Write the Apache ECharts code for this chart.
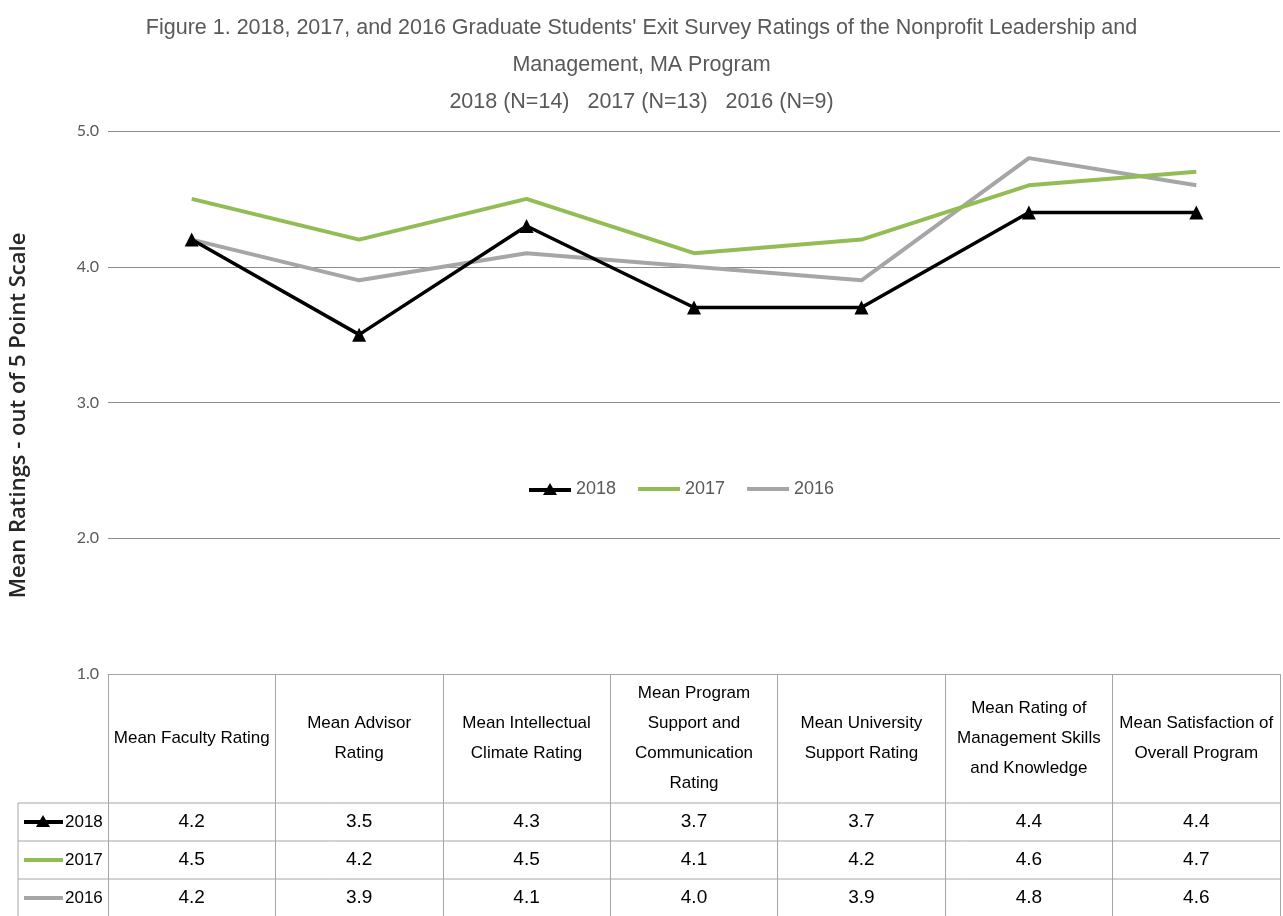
<!DOCTYPE html>
<html>
<head>
<meta charset="utf-8">
<script src="https://cdn.jsdelivr.net/npm/echarts@6/dist/echarts.min.js"></script>
<style>
  html, body { margin: 0; padding: 0; background: #fff; }
  #survey-chart { width: 1283px; height: 916px; }
</style>
</head>
<body>
<div id="survey-chart"></div>
<script>
// categories as shown in the data table (line breaks as in the picture)
const categories = [
  'Mean Faculty Rating',
  'Mean Advisor\nRating',
  'Mean Intellectual\nClimate Rating',
  'Mean Program\nSupport and\nCommunication\nRating',
  'Mean University\nSupport Rating',
  'Mean Rating of\nManagement Skills\nand Knowledge',
  'Mean Satisfaction of\nOverall Program'
];
const seriesNames = ['2018', '2017', '2016'];
const ratings2018 = [4.2, 3.5, 4.3, 3.7, 3.7, 4.4, 4.4];
const ratings2017 = [4.5, 4.2, 4.5, 4.1, 4.2, 4.6, 4.7];
const ratings2016 = [4.2, 3.9, 4.1, 4.0, 3.9, 4.8, 4.6];
const yTicks = [1, 2, 3, 4, 5];

const colors = ['#000000', '#92bd55', '#a6a6a6'];
const sans = "'Liberation Sans', Arial, sans-serif";
const rows = [ratings2018, ratings2017, ratings2016];

// layout of the grid and the data table below it
const gridLeft = 108;
const gridTop = 131;
const gridBottom = 242;
const tableTop = 916 - gridBottom;   // y of value 1.0
const headerH = 129;
const rowH = 38;
const tableLeft = 18;
const tableRight = 1280;

// legend keys: thick line, and thick line with a triangle
const barIcon = 'path://M0,0L42,0L42,4L0,4Z';
const triIcon = 'path://M0,5L18.1,5L21,0L23.9,5L42,5L42,9L26.25,9L28,12L14,12L15.75,9L0,9Z';

let chart = echarts.init(document.getElementById('survey-chart'));

// one extra hidden x axis per table row, just to print the values
const rowAxes = rows.map((vals, r) => ({
  type: 'category',
  data: categories,
  position: 'bottom',
  axisLine: { show: false },
  axisTick: { show: false },
  axisLabel: {
    interval: 0,
    margin: headerH + rowH * r + rowH / 2,
    verticalAlign: 'middle',
    fontFamily: sans,
    fontSize: 19,
    color: '#000',
    formatter: (v, i) => vals[i].toFixed(1)
  }
}));

// table borders and row keys
const graphics = [];
for (let r = 0; r <= rows.length; r++) {
  let y = tableTop + headerH + rowH * r;
  graphics.push({
    type: 'line',
    shape: { x1: tableLeft, y1: y, x2: tableRight, y2: y },
    style: { stroke: '#a6a6a6', lineWidth: 1 }
  });
}
graphics.push({
  type: 'line',
  shape: { x1: tableLeft, y1: tableTop + headerH, x2: tableLeft, y2: tableTop + headerH + rowH * 3 },
  style: { stroke: '#a6a6a6', lineWidth: 1 }
});
seriesNames.forEach((name, r) => {
  let cy = tableTop + headerH + rowH * r + rowH / 2;
  graphics.push({
    type: 'line',
    shape: { x1: 24, y1: cy, x2: 63, y2: cy },
    style: { stroke: colors[r], lineWidth: 4 }
  });
  if (r === 0) {
    graphics.push({
      type: 'polygon',
      shape: { points: [[43, cy - 7], [36, cy + 5], [50, cy + 5]] },
      style: { fill: '#000' }
    });
  }
  graphics.push({
    type: 'text',
    x: 65, y: cy,
    style: { text: name, font: '17px ' + sans, fill: '#000', verticalAlign: 'middle' }
  });
});

chart.setOption({
  animation: false,
  title: {
    text: "Figure 1. 2018, 2017, and 2016 Graduate Students' Exit Survey Ratings of the Nonprofit Leadership and\nManagement, MA Program\n2018 (N=14)   2017 (N=13)   2016 (N=9)",
    left: 'center',
    top: 5,
    textStyle: {
      fontFamily: sans,
      fontSize: 21.5,
      fontWeight: 'normal',
      color: '#595959',
      lineHeight: 37
    }
  },
  legend: {
    left: 524,
    top: 475,
    itemWidth: 42,
    itemHeight: 14,
    itemGap: 22,
    textStyle: { fontFamily: sans, fontSize: 18, color: '#595959' },
    data: [
      { name: seriesNames[0], icon: triIcon },
      { name: seriesNames[1], icon: barIcon },
      { name: seriesNames[2], icon: barIcon }
    ]
  },
  grid: { left: gridLeft, right: 1283 - tableRight, top: gridTop, bottom: gridBottom },
  xAxis: [{
    type: 'category',
    data: categories,
    boundaryGap: true,
    axisLine: { show: true, lineStyle: { color: '#a6a6a6', width: 1 } },
    axisTick: {
      show: true,
      interval: 0,
      length: headerH + rowH * 3,
      lineStyle: { color: '#a6a6a6', width: 1 }
    },
    axisLabel: {
      interval: 0,
      margin: headerH / 2,
      verticalAlign: 'middle',
      align: 'center',
      fontFamily: sans,
      fontSize: 17,
      lineHeight: 30,
      color: '#000'
    }
  }].concat(rowAxes),
  yAxis: {
    type: 'value',
    min: yTicks[0],
    max: yTicks[yTicks.length - 1],
    interval: 1,
    name: 'Mean Ratings - out of 5 Point Scale',
    nameLocation: 'middle',
    nameGap: 78,
    nameTextStyle: {
      fontFamily: "'Open Sans', sans-serif",
      fontSize: 22,
      fontWeight: 600,
      color: '#262626',
      padding: [0, 26, 0, 0]
    },
    axisLine: { show: false },
    axisTick: { show: false },
    axisLabel: {
      margin: 9,
      fontFamily: "'Lato', sans-serif",
      fontSize: 16,
      color: '#595959',
      formatter: v => v.toFixed(1)
    },
    splitLine: { lineStyle: { color: '#8c8c8c', width: 1 } }
  },
  series: [
    {
      name: seriesNames[0],
      type: 'line',
      data: ratings2018,
      color: colors[0],
      symbol: 'triangle',
      symbolSize: 14,
      lineStyle: { width: 3.5 },
      z: 4
    },
    {
      name: seriesNames[1],
      type: 'line',
      data: ratings2017,
      color: colors[1],
      symbol: 'none',
      lineStyle: { width: 4 },
      z: 3
    },
    {
      name: seriesNames[2],
      type: 'line',
      data: ratings2016,
      color: colors[2],
      symbol: 'none',
      lineStyle: { width: 4 },
      z: 2
    }
  ],
  graphic: graphics
});
</script>
</body>
</html>
